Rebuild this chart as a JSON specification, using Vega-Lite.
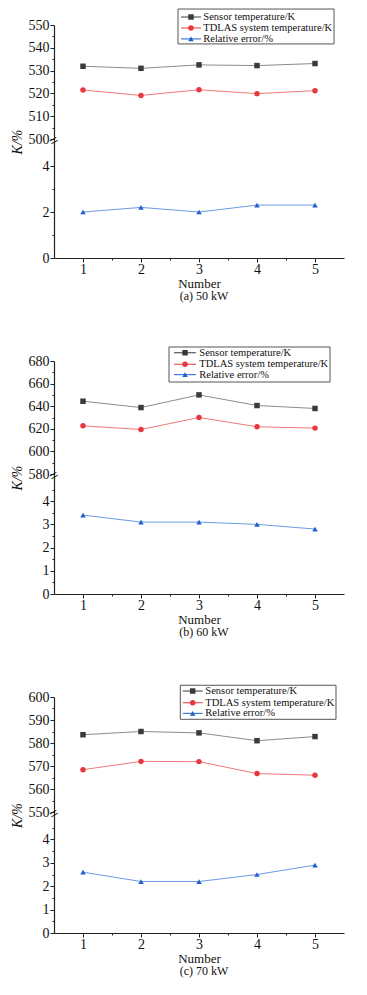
{
  "$schema": "https://vega.github.io/schema/vega-lite/v6.json",
  "background": "white",
  "padding": {"left": 10, "top": 8, "right": 5, "bottom": 5},
  "datasets": {
    "pts": [
      {"p": "a", "n": 1, "s": "Sensor temperature/K", "v": 531.9},
      {"p": "a", "n": 2, "s": "Sensor temperature/K", "v": 531.0},
      {"p": "a", "n": 3, "s": "Sensor temperature/K", "v": 532.5},
      {"p": "a", "n": 4, "s": "Sensor temperature/K", "v": 532.2},
      {"p": "a", "n": 5, "s": "Sensor temperature/K", "v": 533.1},
      {"p": "a", "n": 1, "s": "TDLAS system temperature/K", "v": 521.5},
      {"p": "a", "n": 2, "s": "TDLAS system temperature/K", "v": 519.1},
      {"p": "a", "n": 3, "s": "TDLAS system temperature/K", "v": 521.6},
      {"p": "a", "n": 4, "s": "TDLAS system temperature/K", "v": 519.9},
      {"p": "a", "n": 5, "s": "TDLAS system temperature/K", "v": 521.2},
      {"p": "a", "n": 1, "s": "Relative error/%", "v": 2.0},
      {"p": "a", "n": 2, "s": "Relative error/%", "v": 2.2},
      {"p": "a", "n": 3, "s": "Relative error/%", "v": 2.0},
      {"p": "a", "n": 4, "s": "Relative error/%", "v": 2.3},
      {"p": "a", "n": 5, "s": "Relative error/%", "v": 2.3},
      {"p": "b", "n": 1, "s": "Sensor temperature/K", "v": 644.4},
      {"p": "b", "n": 2, "s": "Sensor temperature/K", "v": 638.8},
      {"p": "b", "n": 3, "s": "Sensor temperature/K", "v": 650.0},
      {"p": "b", "n": 4, "s": "Sensor temperature/K", "v": 640.6},
      {"p": "b", "n": 5, "s": "Sensor temperature/K", "v": 638.0},
      {"p": "b", "n": 1, "s": "TDLAS system temperature/K", "v": 622.6},
      {"p": "b", "n": 2, "s": "TDLAS system temperature/K", "v": 619.4},
      {"p": "b", "n": 3, "s": "TDLAS system temperature/K", "v": 630.0},
      {"p": "b", "n": 4, "s": "TDLAS system temperature/K", "v": 621.8},
      {"p": "b", "n": 5, "s": "TDLAS system temperature/K", "v": 620.6},
      {"p": "b", "n": 1, "s": "Relative error/%", "v": 3.4},
      {"p": "b", "n": 2, "s": "Relative error/%", "v": 3.1},
      {"p": "b", "n": 3, "s": "Relative error/%", "v": 3.1},
      {"p": "b", "n": 4, "s": "Relative error/%", "v": 3.0},
      {"p": "b", "n": 5, "s": "Relative error/%", "v": 2.8},
      {"p": "c", "n": 1, "s": "Sensor temperature/K", "v": 583.6},
      {"p": "c", "n": 2, "s": "Sensor temperature/K", "v": 585.0},
      {"p": "c", "n": 3, "s": "Sensor temperature/K", "v": 584.4},
      {"p": "c", "n": 4, "s": "Sensor temperature/K", "v": 581.0},
      {"p": "c", "n": 5, "s": "Sensor temperature/K", "v": 582.8},
      {"p": "c", "n": 1, "s": "TDLAS system temperature/K", "v": 568.4},
      {"p": "c", "n": 2, "s": "TDLAS system temperature/K", "v": 572.0},
      {"p": "c", "n": 3, "s": "TDLAS system temperature/K", "v": 571.9},
      {"p": "c", "n": 4, "s": "TDLAS system temperature/K", "v": 566.7},
      {"p": "c", "n": 5, "s": "TDLAS system temperature/K", "v": 566.0},
      {"p": "c", "n": 1, "s": "Relative error/%", "v": 2.6},
      {"p": "c", "n": 2, "s": "Relative error/%", "v": 2.2},
      {"p": "c", "n": 3, "s": "Relative error/%", "v": 2.2},
      {"p": "c", "n": 4, "s": "Relative error/%", "v": 2.5},
      {"p": "c", "n": 5, "s": "Relative error/%", "v": 2.9}
    ]
  },
  "config": {
    "view": {"stroke": null},
    "font": "Liberation Serif",
    "axis": {
      "labelFont": "Liberation Serif", "labelFontSize": 14, "labelColor": "#111",
      "titleFont": "Liberation Serif", "titleFontSize": 14, "titleFontWeight": "normal", "titleColor": "#111",
      "domainColor": "#222", "tickColor": "#222", "domainWidth": 1.2, "tickWidth": 1,
      "grid": false, "labelOverlap": false, "labelFlush": false
    },
    "title": {"font": "Liberation Serif", "fontSize": 12, "fontWeight": "normal", "color": "#111"}
  },
  "resolve": {"scale": {"color": "independent", "shape": "independent", "stroke": "independent"}},
  "bounds": "flush",
  "spacing": 103,
  "vconcat": [
    {
      "data": {"name": "pts"},
      "width": 290, "height": 233,
      "title": {"text": "(a) 50 kW", "orient": "bottom", "frame": "group", "offset": 1, "dx": 5},
      "resolve": {"axis": {"x": "independent", "y": "independent"}},
      "encoding": {
        "x": {"field": "n", "type": "quantitative", "scale": {"domain": [0.5, 5.5], "nice": false, "zero": false}, "axis": null},
        "y": {"field": "v", "type": "quantitative", "scale": {"domain": [0, 5, 500, 550], "range": [233, 118, 114, 0], "nice": false, "zero": false}, "axis": null}
      },
      "layer": [
        {
          "transform": [{"filter": "datum.p == 'a'"}],
          "mark": {"type": "line", "strokeWidth": 1},
          "encoding": {
            "stroke": {"field": "s", "type": "nominal", "legend": null,
                       "scale": {"domain": ["Sensor temperature/K", "TDLAS system temperature/K", "Relative error/%"], "range": ["#8c8c8c", "#f07a7a", "#6c9ae0"]}},
            "detail": {"field": "s"}
          }
        },
        {
          "transform": [{"filter": "datum.p == 'a'"}],
          "mark": {"type": "point", "filled": true, "size": 30, "opacity": 1},
          "encoding": {
            "x": {"field": "n", "type": "quantitative", "axis": {"values": [1, 2, 3, 4, 5], "tickSize": 4, "title": "Number", "titleFontSize": 13, "titlePadding": 1, "labelPadding": 0}},
            "y": {"field": "v", "type": "quantitative", "axis": {"values": [0, 2, 4, 500, 510, 520, 530, 540, 550], "tickSize": 4, "title": "K/%", "titleFontStyle": "italic", "titlePadding": 4, "labelPadding": 1}},
            "color": {"field": "s", "type": "nominal", "legend": null,
                      "scale": {"domain": ["Sensor temperature/K", "TDLAS system temperature/K", "Relative error/%"], "range": ["#3a3a3a", "#e8383f", "#1f5fcf"]}},
            "shape": {"field": "s", "type": "nominal", "legend": null,
                      "scale": {"domain": ["Sensor temperature/K", "TDLAS system temperature/K", "Relative error/%"], "range": ["square", "circle", "triangle-up"]}}
          }
        },
        {
          "transform": [{"filter": "datum.p == 'a' && datum.n == 1 && datum.s == 'Relative error/%'"}],
          "mark": {"type": "text", "text": "=", "fontSize": 16, "angle": 330, "color": "#111", "font": "Liberation Serif"},
          "encoding": {
            "x": {"datum": 0.5, "type": "quantitative", "axis": {"orient": "bottom", "values": [1.5, 2.5, 3.5, 4.5], "tickSize": 2, "labels": false, "domain": false, "title": null}},
            "y": {"datum": 250, "type": "quantitative", "axis": {"orient": "left", "values": [1, 3, 505, 515, 525, 535, 545], "tickSize": 2, "labels": false, "domain": false, "title": null}}
          }
        },
        {
          "transform": [{"filter": "datum.p == 'a' && datum.n == 1 && datum.s == 'Sensor temperature/K'"}],
          "mark": {"type": "rect", "fill": "white", "stroke": "#555", "strokeWidth": 1},
          "encoding": {
            "x": {"datum": 2.638, "type": "quantitative", "axis": null}, "x2": {"datum": 5.328},
            "y": {"datum": 557.0, "type": "quantitative", "axis": null}, "y2": {"datum": 541.7}
          }
        },
        {
          "transform": [{"filter": "datum.p == 'a' && datum.n == 1 && datum.s == 'Sensor temperature/K'"}],
          "encoding": {"y": {"datum": 553.5, "type": "quantitative", "axis": null}},
          "layer": [
            {"mark": {"type": "rule", "color": "#3a3a3a", "strokeWidth": 1}, "encoding": {"x": {"datum": 2.69, "type": "quantitative", "axis": null}, "x2": {"datum": 3.034}}},
            {"mark": {"type": "point", "filled": true, "size": 30, "opacity": 1}, "encoding": {"x": {"datum": 2.862, "type": "quantitative", "axis": null}, "color": {"field": "s", "type": "nominal", "legend": null}, "shape": {"field": "s", "type": "nominal", "legend": null}}},
            {"mark": {"type": "text", "align": "left", "baseline": "middle", "fontSize": 10.5, "font": "Liberation Serif", "color": "#111"}, "encoding": {"x": {"datum": 3.074, "type": "quantitative", "axis": null}, "text": {"field": "s"}}}
          ]
        },
        {
          "transform": [{"filter": "datum.p == 'a' && datum.n == 1 && datum.s == 'TDLAS system temperature/K'"}],
          "encoding": {"y": {"datum": 548.7, "type": "quantitative", "axis": null}},
          "layer": [
            {"mark": {"type": "rule", "color": "#e8383f", "strokeWidth": 1}, "encoding": {"x": {"datum": 2.69, "type": "quantitative", "axis": null}, "x2": {"datum": 3.034}}},
            {"mark": {"type": "point", "filled": true, "size": 30, "opacity": 1}, "encoding": {"x": {"datum": 2.862, "type": "quantitative", "axis": null}, "color": {"field": "s", "type": "nominal", "legend": null}, "shape": {"field": "s", "type": "nominal", "legend": null}}},
            {"mark": {"type": "text", "align": "left", "baseline": "middle", "fontSize": 10.5, "font": "Liberation Serif", "color": "#111"}, "encoding": {"x": {"datum": 3.074, "type": "quantitative", "axis": null}, "text": {"field": "s"}}}
          ]
        },
        {
          "transform": [{"filter": "datum.p == 'a' && datum.n == 1 && datum.s == 'Relative error/%'"}],
          "encoding": {"y": {"datum": 543.9, "type": "quantitative", "axis": null}},
          "layer": [
            {"mark": {"type": "rule", "color": "#1f5fcf", "strokeWidth": 1}, "encoding": {"x": {"datum": 2.69, "type": "quantitative", "axis": null}, "x2": {"datum": 3.034}}},
            {"mark": {"type": "point", "filled": true, "size": 30, "opacity": 1}, "encoding": {"x": {"datum": 2.862, "type": "quantitative", "axis": null}, "color": {"field": "s", "type": "nominal", "legend": null}, "shape": {"field": "s", "type": "nominal", "legend": null}}},
            {"mark": {"type": "text", "align": "left", "baseline": "middle", "fontSize": 10.5, "font": "Liberation Serif", "color": "#111"}, "encoding": {"x": {"datum": 3.074, "type": "quantitative", "axis": null}, "text": {"field": "s"}}}
          ]
        }
      ]
    },
    {
      "data": {"name": "pts"},
      "width": 290, "height": 233,
      "title": {"text": "(b) 60 kW", "orient": "bottom", "frame": "group", "offset": 1, "dx": 5},
      "resolve": {"axis": {"x": "independent", "y": "independent"}},
      "encoding": {
        "x": {"field": "n", "type": "quantitative", "scale": {"domain": [0.5, 5.5], "nice": false, "zero": false}, "axis": null},
        "y": {"field": "v", "type": "quantitative", "scale": {"domain": [0, 5, 580, 680], "range": [233, 117, 113, 0], "nice": false, "zero": false}, "axis": null}
      },
      "layer": [
        {
          "transform": [{"filter": "datum.p == 'b'"}],
          "mark": {"type": "line", "strokeWidth": 1},
          "encoding": {
            "stroke": {"field": "s", "type": "nominal", "legend": null,
                       "scale": {"domain": ["Sensor temperature/K", "TDLAS system temperature/K", "Relative error/%"], "range": ["#8c8c8c", "#f07a7a", "#6c9ae0"]}},
            "detail": {"field": "s"}
          }
        },
        {
          "transform": [{"filter": "datum.p == 'b'"}],
          "mark": {"type": "point", "filled": true, "size": 30, "opacity": 1},
          "encoding": {
            "x": {"field": "n", "type": "quantitative", "axis": {"values": [1, 2, 3, 4, 5], "tickSize": 4, "title": "Number", "titleFontSize": 13, "titlePadding": 1, "labelPadding": 0}},
            "y": {"field": "v", "type": "quantitative", "axis": {"values": [0, 1, 2, 3, 4, 580, 600, 620, 640, 660, 680], "tickSize": 4, "title": "K/%", "titleFontStyle": "italic", "titlePadding": 4, "labelPadding": 1}},
            "color": {"field": "s", "type": "nominal", "legend": null,
                      "scale": {"domain": ["Sensor temperature/K", "TDLAS system temperature/K", "Relative error/%"], "range": ["#3a3a3a", "#e8383f", "#1f5fcf"]}},
            "shape": {"field": "s", "type": "nominal", "legend": null,
                      "scale": {"domain": ["Sensor temperature/K", "TDLAS system temperature/K", "Relative error/%"], "range": ["square", "circle", "triangle-up"]}}
          }
        },
        {
          "transform": [{"filter": "datum.p == 'b' && datum.n == 1 && datum.s == 'Relative error/%'"}],
          "mark": {"type": "text", "text": "=", "fontSize": 16, "angle": 330, "color": "#111", "font": "Liberation Serif"},
          "encoding": {
            "x": {"datum": 0.5, "type": "quantitative", "axis": {"orient": "bottom", "values": [1.5, 2.5, 3.5, 4.5], "tickSize": 2, "labels": false, "domain": false, "title": null}},
            "y": {"datum": 290, "type": "quantitative", "axis": {"orient": "left", "values": [0.5, 1.5, 2.5, 3.5, 4.5, 590, 610, 630, 650, 670], "tickSize": 2, "labels": false, "domain": false, "title": null}}
          }
        },
        {
          "transform": [{"filter": "datum.p == 'b' && datum.n == 1 && datum.s == 'Sensor temperature/K'"}],
          "mark": {"type": "rect", "fill": "white", "stroke": "#555", "strokeWidth": 1},
          "encoding": {
            "x": {"datum": 2.483, "type": "quantitative", "axis": null}, "x2": {"datum": 5.259},
            "y": {"datum": 692.4, "type": "quantitative", "axis": null}, "y2": {"datum": 661.4}
          }
        },
        {
          "transform": [{"filter": "datum.p == 'b' && datum.n == 1 && datum.s == 'Sensor temperature/K'"}],
          "encoding": {"y": {"datum": 687.3, "type": "quantitative", "axis": null}},
          "layer": [
            {"mark": {"type": "rule", "color": "#3a3a3a", "strokeWidth": 1}, "encoding": {"x": {"datum": 2.569, "type": "quantitative", "axis": null}, "x2": {"datum": 2.948}}},
            {"mark": {"type": "point", "filled": true, "size": 30, "opacity": 1}, "encoding": {"x": {"datum": 2.759, "type": "quantitative", "axis": null}, "color": {"field": "s", "type": "nominal", "legend": null}, "shape": {"field": "s", "type": "nominal", "legend": null}}},
            {"mark": {"type": "text", "align": "left", "baseline": "middle", "fontSize": 10.5, "font": "Liberation Serif", "color": "#111"}, "encoding": {"x": {"datum": 3.005, "type": "quantitative", "axis": null}, "text": {"field": "s"}}}
          ]
        },
        {
          "transform": [{"filter": "datum.p == 'b' && datum.n == 1 && datum.s == 'TDLAS system temperature/K'"}],
          "encoding": {"y": {"datum": 677.1, "type": "quantitative", "axis": null}},
          "layer": [
            {"mark": {"type": "rule", "color": "#e8383f", "strokeWidth": 1}, "encoding": {"x": {"datum": 2.569, "type": "quantitative", "axis": null}, "x2": {"datum": 2.948}}},
            {"mark": {"type": "point", "filled": true, "size": 30, "opacity": 1}, "encoding": {"x": {"datum": 2.759, "type": "quantitative", "axis": null}, "color": {"field": "s", "type": "nominal", "legend": null}, "shape": {"field": "s", "type": "nominal", "legend": null}}},
            {"mark": {"type": "text", "align": "left", "baseline": "middle", "fontSize": 10.5, "font": "Liberation Serif", "color": "#111"}, "encoding": {"x": {"datum": 3.005, "type": "quantitative", "axis": null}, "text": {"field": "s"}}}
          ]
        },
        {
          "transform": [{"filter": "datum.p == 'b' && datum.n == 1 && datum.s == 'Relative error/%'"}],
          "encoding": {"y": {"datum": 667.9, "type": "quantitative", "axis": null}},
          "layer": [
            {"mark": {"type": "rule", "color": "#1f5fcf", "strokeWidth": 1}, "encoding": {"x": {"datum": 2.569, "type": "quantitative", "axis": null}, "x2": {"datum": 2.948}}},
            {"mark": {"type": "point", "filled": true, "size": 30, "opacity": 1}, "encoding": {"x": {"datum": 2.759, "type": "quantitative", "axis": null}, "color": {"field": "s", "type": "nominal", "legend": null}, "shape": {"field": "s", "type": "nominal", "legend": null}}},
            {"mark": {"type": "text", "align": "left", "baseline": "middle", "fontSize": 10.5, "font": "Liberation Serif", "color": "#111"}, "encoding": {"x": {"datum": 3.005, "type": "quantitative", "axis": null}, "text": {"field": "s"}}}
          ]
        }
      ]
    },
    {
      "data": {"name": "pts"},
      "width": 290, "height": 236,
      "title": {"text": "(c) 70 kW", "orient": "bottom", "frame": "group", "offset": 1, "dx": 5},
      "resolve": {"axis": {"x": "independent", "y": "independent"}},
      "encoding": {
        "x": {"field": "n", "type": "quantitative", "scale": {"domain": [0.5, 5.5], "nice": false, "zero": false}, "axis": null},
        "y": {"field": "v", "type": "quantitative", "scale": {"domain": [0, 5, 550, 600], "range": [236, 119, 115, 0], "nice": false, "zero": false}, "axis": null}
      },
      "layer": [
        {
          "transform": [{"filter": "datum.p == 'c'"}],
          "mark": {"type": "line", "strokeWidth": 1},
          "encoding": {
            "stroke": {"field": "s", "type": "nominal", "legend": null,
                       "scale": {"domain": ["Sensor temperature/K", "TDLAS system temperature/K", "Relative error/%"], "range": ["#8c8c8c", "#f07a7a", "#6c9ae0"]}},
            "detail": {"field": "s"}
          }
        },
        {
          "transform": [{"filter": "datum.p == 'c'"}],
          "mark": {"type": "point", "filled": true, "size": 30, "opacity": 1},
          "encoding": {
            "x": {"field": "n", "type": "quantitative", "axis": {"values": [1, 2, 3, 4, 5], "tickSize": 4, "title": "Number", "titleFontSize": 13, "titlePadding": 1, "labelPadding": 0}},
            "y": {"field": "v", "type": "quantitative", "axis": {"values": [0, 1, 2, 3, 4, 550, 560, 570, 580, 590, 600], "tickSize": 4, "title": "K/%", "titleFontStyle": "italic", "titlePadding": 4, "labelPadding": 1}},
            "color": {"field": "s", "type": "nominal", "legend": null,
                      "scale": {"domain": ["Sensor temperature/K", "TDLAS system temperature/K", "Relative error/%"], "range": ["#3a3a3a", "#e8383f", "#1f5fcf"]}},
            "shape": {"field": "s", "type": "nominal", "legend": null,
                      "scale": {"domain": ["Sensor temperature/K", "TDLAS system temperature/K", "Relative error/%"], "range": ["square", "circle", "triangle-up"]}}
          }
        },
        {
          "transform": [{"filter": "datum.p == 'c' && datum.n == 1 && datum.s == 'Relative error/%'"}],
          "mark": {"type": "text", "text": "=", "fontSize": 16, "angle": 330, "color": "#111", "font": "Liberation Serif"},
          "encoding": {
            "x": {"datum": 0.5, "type": "quantitative", "axis": {"orient": "bottom", "values": [1.5, 2.5, 3.5, 4.5], "tickSize": 2, "labels": false, "domain": false, "title": null}},
            "y": {"datum": 275, "type": "quantitative", "axis": {"orient": "left", "values": [0.5, 1.5, 2.5, 3.5, 4.5, 555, 565, 575, 585, 595], "tickSize": 2, "labels": false, "domain": false, "title": null}}
          }
        },
        {
          "transform": [{"filter": "datum.p == 'c' && datum.n == 1 && datum.s == 'Sensor temperature/K'"}],
          "mark": {"type": "rect", "fill": "white", "stroke": "#555", "strokeWidth": 1},
          "encoding": {
            "x": {"datum": 2.678, "type": "quantitative", "axis": null}, "x2": {"datum": 5.362},
            "y": {"datum": 605.1, "type": "quantitative", "axis": null}, "y2": {"datum": 590.3}
          }
        },
        {
          "transform": [{"filter": "datum.p == 'c' && datum.n == 1 && datum.s == 'Sensor temperature/K'"}],
          "encoding": {"y": {"datum": 602.6, "type": "quantitative", "axis": null}},
          "layer": [
            {"mark": {"type": "rule", "color": "#3a3a3a", "strokeWidth": 1}, "encoding": {"x": {"datum": 2.719, "type": "quantitative", "axis": null}, "x2": {"datum": 3.064}}},
            {"mark": {"type": "point", "filled": true, "size": 30, "opacity": 1}, "encoding": {"x": {"datum": 2.891, "type": "quantitative", "axis": null}, "color": {"field": "s", "type": "nominal", "legend": null}, "shape": {"field": "s", "type": "nominal", "legend": null}}},
            {"mark": {"type": "text", "align": "left", "baseline": "middle", "fontSize": 10.5, "font": "Liberation Serif", "color": "#111"}, "encoding": {"x": {"datum": 3.109, "type": "quantitative", "axis": null}, "text": {"field": "s"}}}
          ]
        },
        {
          "transform": [{"filter": "datum.p == 'c' && datum.n == 1 && datum.s == 'TDLAS system temperature/K'"}],
          "encoding": {"y": {"datum": 597.5, "type": "quantitative", "axis": null}},
          "layer": [
            {"mark": {"type": "rule", "color": "#e8383f", "strokeWidth": 1}, "encoding": {"x": {"datum": 2.719, "type": "quantitative", "axis": null}, "x2": {"datum": 3.064}}},
            {"mark": {"type": "point", "filled": true, "size": 30, "opacity": 1}, "encoding": {"x": {"datum": 2.891, "type": "quantitative", "axis": null}, "color": {"field": "s", "type": "nominal", "legend": null}, "shape": {"field": "s", "type": "nominal", "legend": null}}},
            {"mark": {"type": "text", "align": "left", "baseline": "middle", "fontSize": 10.5, "font": "Liberation Serif", "color": "#111"}, "encoding": {"x": {"datum": 3.109, "type": "quantitative", "axis": null}, "text": {"field": "s"}}}
          ]
        },
        {
          "transform": [{"filter": "datum.p == 'c' && datum.n == 1 && datum.s == 'Relative error/%'"}],
          "encoding": {"y": {"datum": 592.9, "type": "quantitative", "axis": null}},
          "layer": [
            {"mark": {"type": "rule", "color": "#1f5fcf", "strokeWidth": 1}, "encoding": {"x": {"datum": 2.719, "type": "quantitative", "axis": null}, "x2": {"datum": 3.064}}},
            {"mark": {"type": "point", "filled": true, "size": 30, "opacity": 1}, "encoding": {"x": {"datum": 2.891, "type": "quantitative", "axis": null}, "color": {"field": "s", "type": "nominal", "legend": null}, "shape": {"field": "s", "type": "nominal", "legend": null}}},
            {"mark": {"type": "text", "align": "left", "baseline": "middle", "fontSize": 10.5, "font": "Liberation Serif", "color": "#111"}, "encoding": {"x": {"datum": 3.109, "type": "quantitative", "axis": null}, "text": {"field": "s"}}}
          ]
        }
      ]
    }
  ]
}
